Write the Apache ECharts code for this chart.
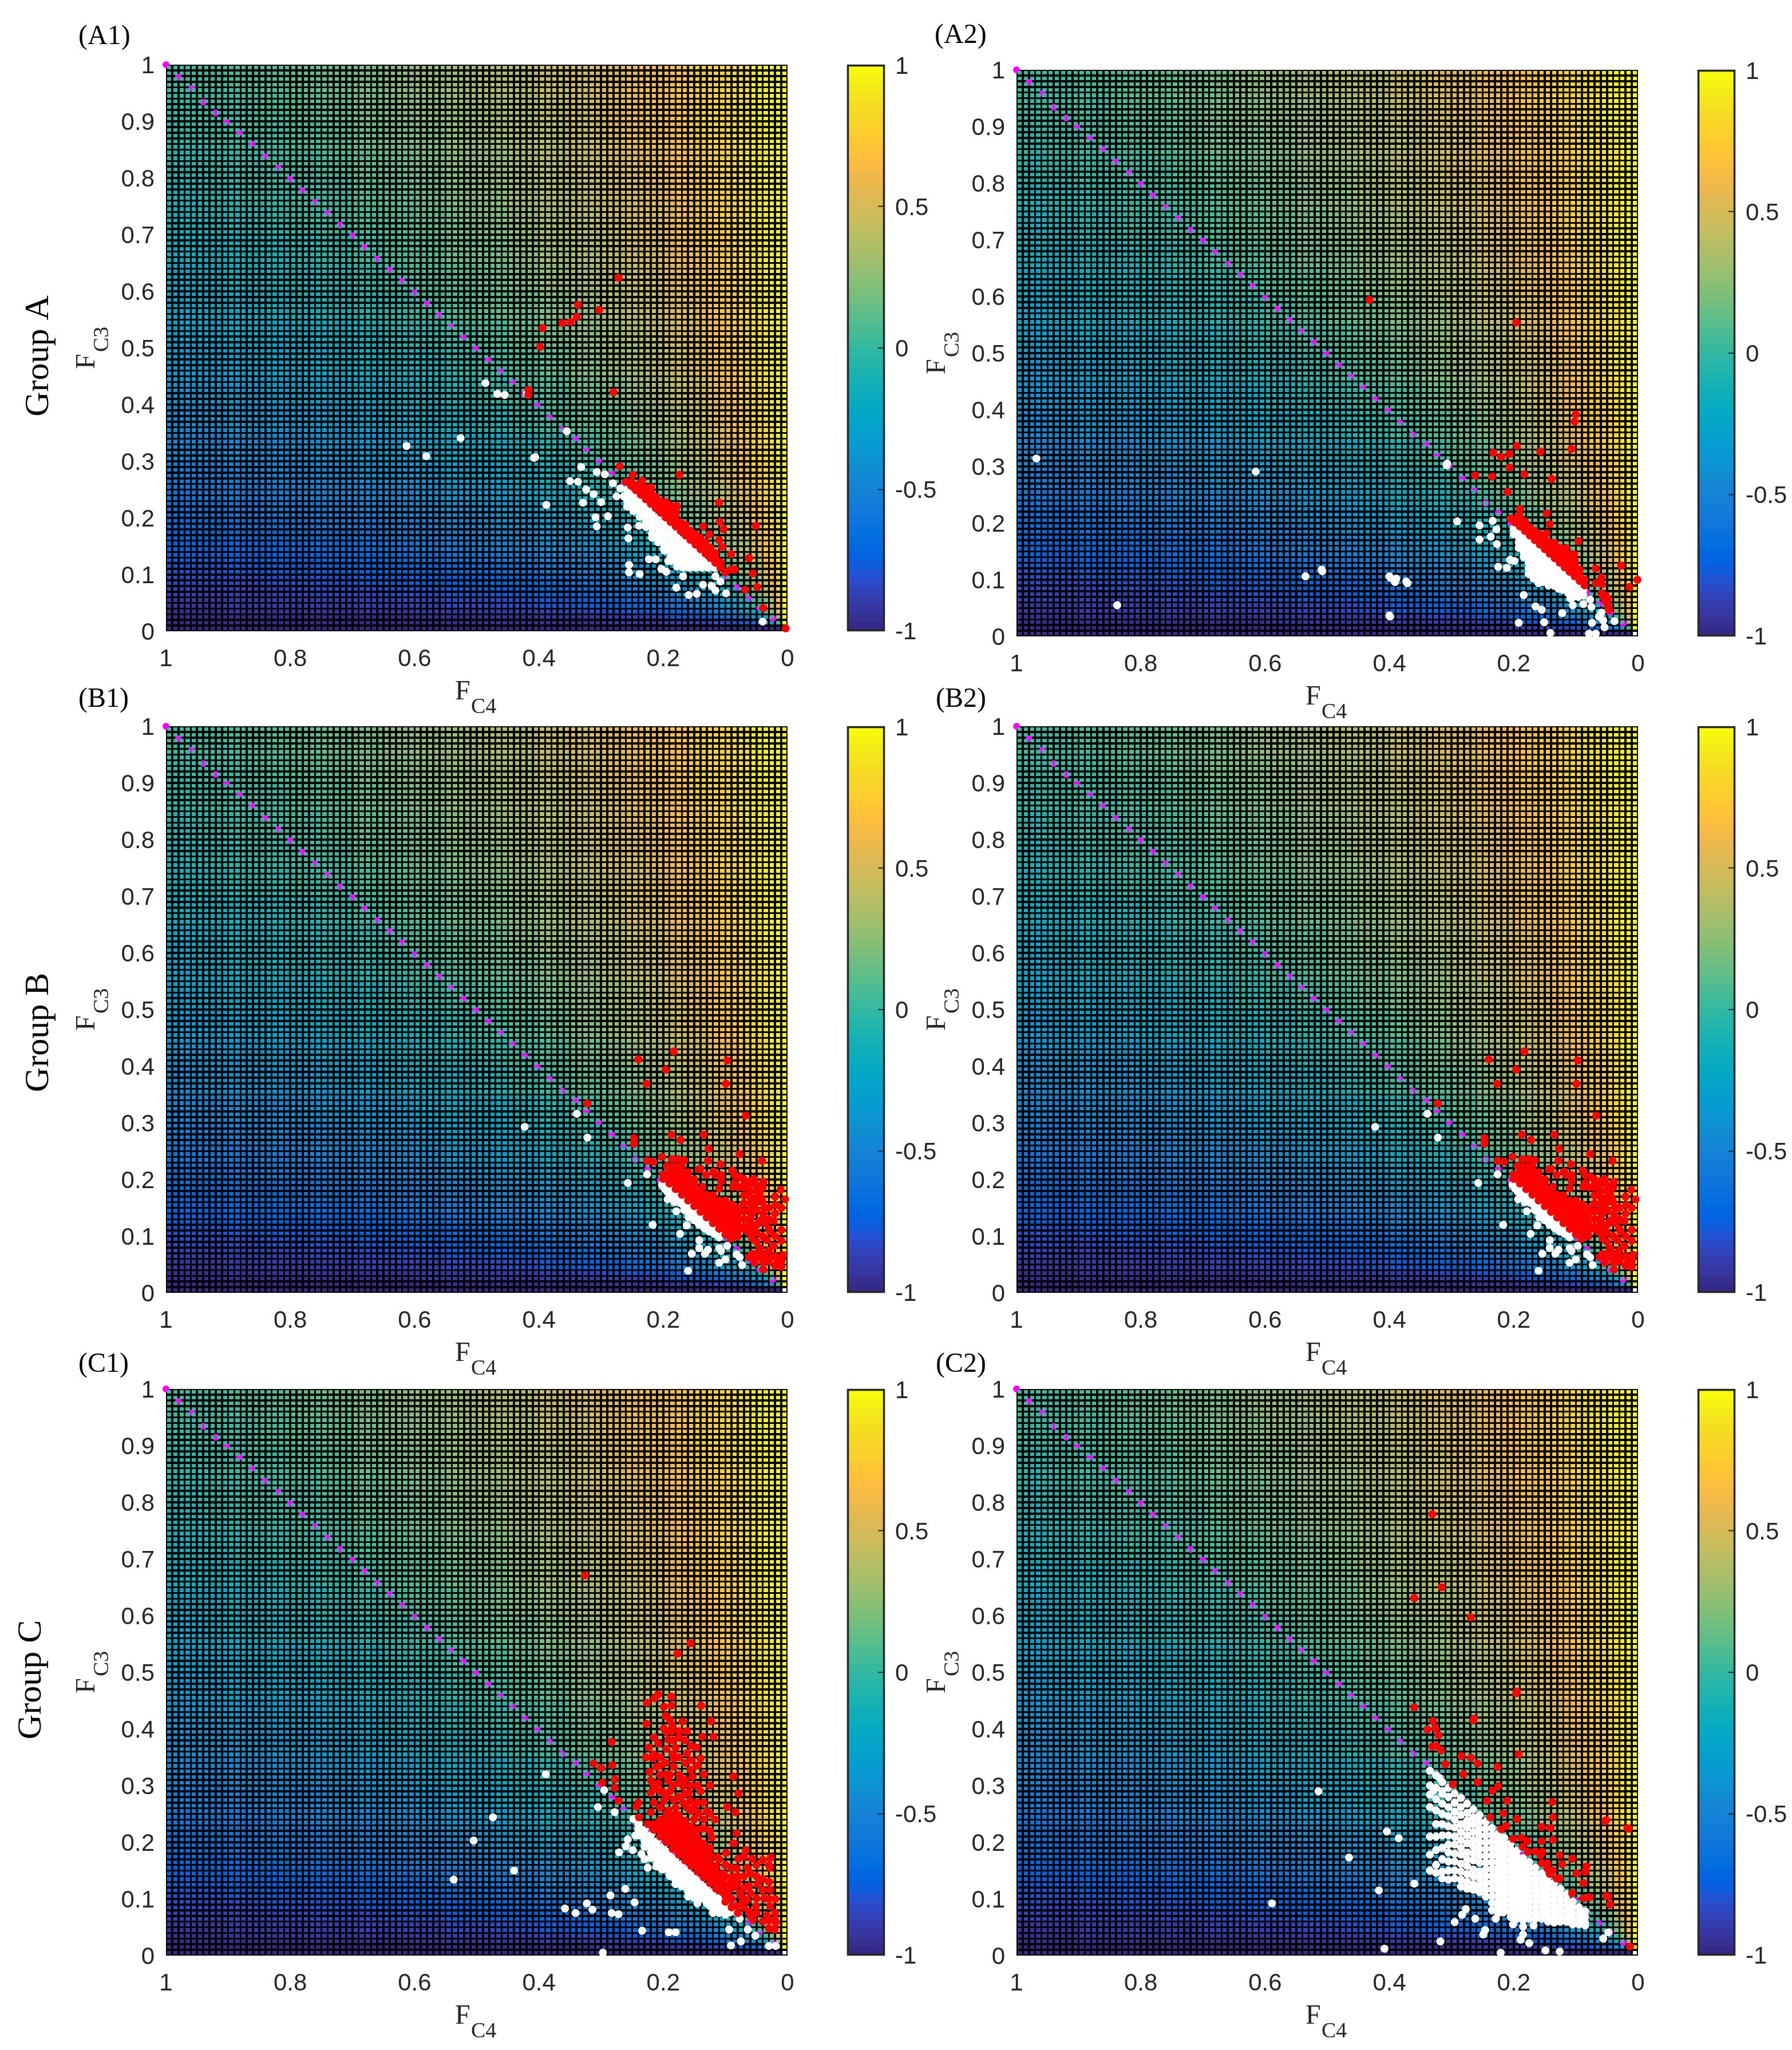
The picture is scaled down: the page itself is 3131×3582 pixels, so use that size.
<!DOCTYPE html>
<html><head><meta charset="utf-8">
<script src="https://cdn.jsdelivr.net/npm/echarts@6/dist/echarts.min.js"></script>
<style>html,body{margin:0;background:#fff}#c{width:3131px;height:3582px}</style></head>
<body><div id="c"></div>
<script>
// Background surface. Not read cell by cell: colours were sampled against the colour bar, they fit
// v = (y-x)/(y+x) closely, and this coarse table of estimates (in %) was hand-typed using that pattern.
// Each entry fills a block of cells. Band starts are in hundredths of FC4 / FC3.
const surfaceBandStarts = [0,1,2,3,4,6,8,10,12,14,16,18,20,23,26,30,35,40,45,50,55,60,65,70,75,80,85,90,95];
const surfaceRows = [
[null,-100,-100,-100,-100,-100,-100,-100,-100,-100,-100,-100,-100,-100,-100,-100,-100,-100,-100,-100,-100,-100,-100,-100,-100,-100,-100,-100,-100],
[100,0,-33,-50,-64,-73,-79,-83,-85,-87,-89,-90,-91,-92,-93,-94,-95,-95,-96,-96,-97,-97,-97,-97,-97,-98,-98,-98,-98],
[100,33,0,-20,-38,-53,-62,-68,-72,-76,-78,-80,-83,-85,-86,-88,-90,-91,-92,-93,-93,-94,-94,-95,-95,-95,-96,-96,-96],
[100,50,20,0,-20,-37,-48,-56,-61,-66,-69,-72,-75,-78,-80,-83,-85,-87,-88,-89,-90,-91,-91,-92,-92,-93,-93,-94,-94],
[100,64,38,20,0,-18,-31,-40,-47,-53,-57,-61,-65,-68,-72,-75,-78,-81,-83,-84,-85,-86,-87,-88,-89,-90,-90,-91,-91],
[100,73,53,37,18,0,-13,-24,-32,-38,-43,-48,-53,-57,-62,-66,-70,-73,-76,-78,-80,-81,-82,-83,-84,-85,-86,-87,-87],
[100,79,62,48,31,13,0,-11,-19,-26,-32,-37,-42,-48,-53,-58,-63,-66,-69,-72,-74,-76,-77,-79,-80,-81,-82,-83,-84],
[100,83,68,56,40,24,11,0,-9,-16,-22,-28,-33,-39,-45,-51,-56,-60,-63,-66,-69,-71,-73,-75,-76,-77,-78,-80,-80],
[100,85,72,61,47,32,19,9,0,-7,-14,-19,-25,-32,-38,-44,-49,-54,-58,-61,-64,-66,-69,-70,-72,-74,-75,-76,-77],
[100,87,76,66,53,38,26,16,7,0,-6,-12,-18,-25,-31,-38,-44,-49,-53,-56,-59,-62,-64,-66,-68,-70,-71,-73,-74],
[100,89,78,69,57,43,32,22,14,6,0,-6,-12,-19,-25,-32,-38,-44,-48,-52,-55,-58,-60,-63,-65,-66,-68,-70,-71],
[100,90,80,72,61,48,37,28,19,12,6,0,-6,-13,-20,-27,-33,-39,-43,-48,-51,-54,-57,-59,-61,-63,-65,-66,-68],
[100,91,83,75,65,53,42,33,25,18,12,6,0,-7,-13,-21,-28,-33,-38,-42,-46,-49,-52,-55,-57,-59,-61,-63,-64],
[100,92,85,78,68,57,48,39,32,25,19,13,7,0,-7,-14,-21,-27,-32,-37,-41,-44,-47,-50,-52,-55,-57,-59,-60],
[100,93,86,80,72,62,53,45,38,31,25,20,13,7,0,-8,-15,-21,-26,-31,-35,-39,-42,-45,-47,-50,-52,-54,-56],
[100,94,88,83,75,66,58,51,44,38,32,27,21,14,8,0,-7,-14,-19,-24,-28,-32,-35,-38,-41,-44,-46,-48,-50],
[100,95,90,85,78,70,63,56,49,44,38,33,28,21,15,7,0,-6,-12,-17,-21,-25,-29,-32,-35,-38,-40,-43,-45],
[100,95,91,87,81,73,66,60,54,49,44,39,33,27,21,14,6,0,-6,-11,-15,-19,-23,-26,-29,-32,-35,-37,-40],
[100,96,92,88,83,76,69,63,58,53,48,43,38,32,26,19,12,6,0,-5,-10,-14,-18,-21,-24,-27,-30,-32,-35],
[100,96,93,89,84,78,72,66,61,56,52,48,42,37,31,24,17,11,5,0,-5,-9,-13,-16,-19,-22,-25,-28,-30],
[100,97,93,90,85,80,74,69,64,59,55,51,46,41,35,28,21,15,10,5,0,-4,-8,-12,-15,-18,-21,-23,-26],
[100,97,94,91,86,81,76,71,66,62,58,54,49,44,39,32,25,19,14,9,4,0,-4,-7,-11,-14,-17,-19,-22],
[100,97,94,91,87,82,77,73,69,64,60,57,52,47,42,35,29,23,18,13,8,4,0,-4,-7,-10,-13,-16,-18],
[100,97,95,92,88,83,79,75,70,66,63,59,55,50,45,38,32,26,21,16,12,7,4,0,-3,-6,-9,-12,-15],
[100,97,95,92,89,84,80,76,72,68,65,61,57,52,47,41,35,29,24,19,15,11,7,3,0,-3,-6,-9,-11],
[100,98,95,93,90,85,81,77,74,70,66,63,59,55,50,44,38,32,27,22,18,14,10,6,3,0,-3,-6,-8],
[100,98,96,93,90,86,82,78,75,71,68,65,61,57,52,46,40,35,30,25,21,17,13,9,6,3,0,-3,-5],
[100,98,96,94,91,87,83,80,76,73,70,66,63,59,54,48,43,37,32,28,23,19,16,12,9,6,3,0,-3],
[100,98,96,94,91,87,84,80,77,74,71,68,64,60,56,50,45,40,35,30,26,22,18,15,11,8,5,3,0]
];
const parula = [[.2081,.1663,.5292],[.2116,.1898,.5777],[.2123,.2138,.6270],[.2081,.2386,.6771],[.1959,.2645,.7279],[.1707,.2919,.7792],[.1253,.3242,.8303],[.0591,.3598,.8683],[.0117,.3875,.8820],[.0060,.4086,.8828],[.0165,.4266,.8786],[.0329,.4430,.8720],[.0498,.4586,.8641],[.0629,.4737,.8554],[.0723,.4887,.8467],[.0779,.5040,.8384],[.0793,.5200,.8312],[.0749,.5375,.8263],[.0641,.5570,.8240],[.0488,.5772,.8228],[.0343,.5966,.8199],[.0265,.6137,.8135],[.0239,.6287,.8038],[.0231,.6418,.7913],[.0228,.6535,.7768],[.0267,.6642,.7607],[.0384,.6743,.7436],[.0590,.6838,.7254],[.0843,.6928,.7062],[.1133,.7015,.6859],[.1453,.7098,.6646],[.1801,.7177,.6424],[.2178,.7250,.6193],[.2586,.7317,.5954],[.3022,.7376,.5712],[.3482,.7424,.5473],[.3953,.7459,.5244],[.4420,.7481,.5033],[.4871,.7491,.4840],[.5300,.7491,.4661],[.5709,.7485,.4494],[.6099,.7473,.4337],[.6473,.7456,.4188],[.6834,.7435,.4044],[.7184,.7411,.3905],[.7525,.7384,.3768],[.7858,.7356,.3633],[.8185,.7327,.3498],[.8507,.7299,.3360],[.8824,.7274,.3217],[.9139,.7258,.3063],[.9450,.7261,.2886],[.9739,.7314,.2666],[.9938,.7455,.2403],[.9990,.7653,.2164],[.9955,.7861,.1967],[.9880,.8066,.1794],[.9789,.8271,.1633],[.9697,.8481,.1475],[.9626,.8705,.1309],[.9589,.8949,.1132],[.9598,.9218,.0948],[.9661,.9514,.0755],[.9763,.9831,.0538]];

// Scatter points in per-mille of [FC4, FC3].
// *Pts are flat x,y pairs. *Cols are dense regions written as [x, y, y, y...].
const diagonalPts = [1000,1000,980,978,958,958,940,934,920,915,903,899,882,880,862,860,841,838,819,818,800,798,781,778,760,757,740,738,720,717,700,698,681,678,660,657,640,638,620,618,600,597,580,578,561,558,542,539,522,519,502,499,482,479,462,459,443,440,423,419,403,399,383,377,363,356,341,340,324,321,304,301,283,279,264,258,245,235,225,218,205,198,185,178,166,156,146,136,125,115,100,97,82,77,63,57,45,41,24,23];

const a1RedPts = [272,624,303,567,337,576,339,555,349,546,362,544,394,535,398,502,280,422,417,426,417,417,270,291,174,276,249,276,234,266,178,221,110,227,109,193,103,180,51,186,136,185,126,171,110,161,105,149,91,136,62,129,56,102,49,78,68,73,39,41,3,5,91,109,85,109,117,127,108,114];
const a1RedCols = [[260,264],[252,257,263],[244,249,258],[236,241,251,259],[228,233,243,253],[220,225,235,245,254],[212,217,227,237],[204,209,219,229],[196,201,211,221,228],[188,193,203,213,222],[180,185,195,205,212],[172,177,187,192],[164,169,179,188],[156,161,171,177],[148,153,163,171],[140,145,155,165],[132,137,147,157],[124,129,139,147],[116,121,131,138],[108,112,122],[100,104]];
const a1WhitePts = [406,307,332,290,307,281,294,277,350,265,337,264,281,261,269,252,324,250,312,242,275,238,263,238,300,228,329,227,388,223,309,201,289,203,307,185,257,183,239,186,256,164,218,165,199,146,223,127,212,127,192,124,255,117,255,104,238,101,203,110,195,105,168,97,179,77,136,82,122,80,116,72,159,64,146,66,99,67,116,97,108,88,40,17,355,353,526,341,613,327,581,309,486,438,467,419,455,417,408,306,419,420];
const a1WhiteCols = [[258,250,240,230,220],[248,242,232,222,212],[238,232,222,212,202],[228,222,212,202,192,184],[218,212,202,192,182,172],[208,202,192,182,172,162,157],[198,192,182,172,162,152,142],[188,182,172,162,152,142,132,124],[178,172,162,152,142,132,122,114],[168,162,152,142,132,122,112],[158,152,142,132,122,112],[148,142,132,122,112],[138,132,122,112],[128,122,112],[118,112]];

const a2RedPts = [100,392,102,379,195,336,157,326,107,331,233,324,220,317,207,322,207,298,183,286,139,278,262,284,235,282,210,255,190,225,191,214,147,217,142,198,147,182,96,168,68,120,27,125,1,100,14,87,59,104,68,94,58,92,103,145,116,156,126,156,432,594,196,554,59,76,56,70,53,64,50,58,48,52,47,47,52,72,49,66];
const a2RedCols = [[205,208],[198,201,208],[190,194,203],[182,186,196,203],[174,178,188,193],[166,170,180,186],[158,162,172,180],[150,154,164,172],[142,146,156,166],[134,138,148,158,165],[126,130,140,150],[118,122,132,142,150],[110,114,124,134,144],[102,106,116,126,134],[94,98,108,118],[86,90,100]];
const a2WhitePts = [308,302,291,203,255,196,234,204,228,189,237,176,255,171,227,163,192,156,206,135,199,133,225,123,211,121,508,115,398,103,391,96,371,94,184,73,165,53,155,47,122,41,399,35,192,24,151,25,105,55,109,67,121,82,88,57,75,52,77,65,63,35,56,28,74,24,38,27,54,16,141,6,79,5,68,5,59,42,968,314,838,55,615,291,535,106,509,118,400,106,389,102,373,97,400,37,307,305];
const a2WhiteCols = [[200,190,180],[192,186,176,166],[184,178,168,158,148,140],[176,170,160,150,140,130,120,110],[168,162,152,142,132,122,112,102],[160,154,144,134,124,114,104,94],[152,146,136,126,116,106,96],[144,138,128,118,108,98,90],[136,130,120,110,100,90],[128,122,112,102,92,84],[120,114,104,94,84],[112,106,96,86,76],[104,98,88,78,70],[96,90,80,70],[88,82,72]];

const bRedPts = [247,273,247,263,187,279,172,270,135,279,127,254,77,245,41,233,226,233,216,231,202,240,186,236,176,236,166,234,128,233,108,227,89,216,194,224,11,182,4,165,19,155,22,127,10,111,28,108,7,67,16,58,39,41,22,83,36,96,140,219,119,214,240,412,183,426,196,394,227,369,97,410,99,369,322,334,67,313,85,208,76,204,88,187,79,186,60,197,64,187,51,191,39,196,45,177,60,169,51,167,42,167,110,184,137,187,60,157,54,154,37,150,57,140,39,140,60,125,45,127,36,123,54,113,57,96,50,106,79,113,91,96,33,93,45,79,57,69,62,63,53,53,39,53,30,61,48,69,36,69,67,110,85,113,131,208,143,218,116,208,107,208,107,197,85,194,70,191,54,201];
const bRedCols = [[200,201,209],[190,193,203,213,222],[180,183,193,203,213,223],[170,173,183,193,203,213,223],[160,163,173,183,193,203,213],[150,153,163,173,183,193,200],[140,143,153,163,173,181],[130,133,143,153,163,173],[120,123,133,143,153,163,172],[110,113,123,133,143,153,163],[100,103,113,123,133,143,153,163],[90,96,106,116,126,136,146,156],[80,100,110,120,130,140,150],[70,200,186,172,158,144,130,116],[60,180,146,132,118,104],[50,180,160,146,120,90,62],[40,186,160,130,100,60],[30,150,130,113,75,56],[20,170,140,100,65,48],[10,150,92,56,46]];
const bWhitePts = [202,191,194,179,193,165,180,170,170,157,179,144,162,144,159,133,150,130,162,119,143,122,131,113,123,110,113,106,217,120,173,104,142,93,142,79,154,69,133,69,128,76,110,79,107,74,97,83,110,53,100,59,160,39,82,68,77,63,73,49,226,209,257,194,168,162,165,154,156,140,153,137,140,123,134,120,146,127,119,110,423,293,339,316,322,274];
const bWhiteCols = [[198,192,184],[190,184,176],[182,176,168,160],[174,168,160],[166,160,152,146],[158,152,144,136],[150,144,136,128],[142,136,128,120],[134,128,120,114],[126,120,112,108],[118,112,104],[110,104,98]];

const c1RedPts = [156,551,177,533,208,461,214,454,187,457,226,446,199,439,187,441,139,441,227,409,123,414,196,423,169,413,119,386,137,386,283,377,312,339,300,331,282,336,278,311,298,305,278,296,272,273,240,270,243,263,239,244,87,316,79,286,97,262,84,253,130,255,117,240,82,216,87,198,99,181,67,186,79,171,57,171,40,169,27,173,28,155,65,155,48,126,62,123,28,116,37,101,50,101,65,98,76,111,82,88,28,87,56,63,33,71,19,58,30,48,21,46,62,77,51,87,73,92,88,140,103,145,82,154,113,174,122,208,146,222,137,224,150,241,143,251,162,261,150,261,189,415,199,401,186,396,174,396,162,396,208,374,192,381,180,367,223,367,228,350,217,348,162,357,146,367,140,348,196,340,211,333,183,348,183,333,156,328,222,324,205,319,189,319,174,319,220,309,192,309,208,304,168,299,153,316,220,287,202,290,214,295,189,290,159,287,140,290,199,273,183,275,168,270,156,273,205,261,220,253,192,256,180,261,326,671,100,140,91,130,110,140,82,126,76,106,85,121];
const c1RedCols = [[225,232],[215,222,232,385,355,300,270],[205,210,220,230,240,350,335,290],[195,200,210,220,230,240,250,395,365,320,280],[185,188,198,208,218,228,238,248,405,380,355,300],[175,178,188,198,208,218,228,238,248,385,350,305,280],[165,168,178,188,198,208,218,228,238,380,340,310,285],[155,158,168,178,188,198,208,218,228,370,345,300,255],[145,148,158,168,178,188,198,208,335,300,270],[135,138,148,158,168,178,188,198,320,270,240,225],[125,128,138,148,158,168,178,300,250,220,190],[115,118,128,138,148,158],[105,112,122,132,142],[95,105,115,125],[110,170,125,115],[100,160,125,105,95],[90,155,120,100,85],[80,140,130,75],[70,175,140,120,100,85],[60,145,110,70],[50,160,140,75],[40,135,115,60],[30,160,130,100,62],[20,100,75,62]];
const c1WhitePts = [248,241,239,227,245,212,257,205,260,193,271,182,249,186,232,210,235,179,226,198,217,179,225,155,211,157,202,152,208,188,192,183,186,169,189,140,177,155,180,126,171,140,162,121,149,130,160,104,143,111,145,92,131,106,125,87,113,97,120,75,110,75,93,76,82,75,77,65,261,118,285,106,246,94,323,92,341,75,283,75,272,73,234,44,191,41,180,41,94,46,64,46,52,35,75,25,91,18,30,17,19,17,297,5,295,292,305,262,278,253,217,198,199,167,174,130,156,111,137,101,119,87,389,320,474,244,505,203,440,150,537,134,358,83,314,81];
const c1WhiteCols = [[240,232,222,212],[230,222,212,202,192,170],[220,212,202,192,182,172],[210,202,192,182,172,162],[200,192,182,172,162,152],[190,182,172,162,152,142],[180,172,162,152,142,132],[170,162,152,142,132,122],[160,152,142,132,122,112],[150,142,132,122,112,102],[140,132,122,112,102],[130,122,112,102,92],[120,112,102,92,82],[110,102,92,82],[100,92,82,72]];

const c2RedPts = [195,466,264,418,330,414,326,401,321,389,324,370,317,362,192,355,284,352,269,349,258,339,226,333,310,338,281,320,298,302,258,306,225,299,234,291,243,273,211,273,138,271,217,251,137,244,238,244,195,241,51,239,17,225,220,223,212,229,155,227,141,225,155,202,137,204,201,206,188,208,178,202,186,192,177,183,165,184,154,183,157,177,126,177,106,171,155,163,146,163,122,161,83,157,146,154,137,150,85,148,99,145,126,136,131,136,88,128,106,110,88,101,78,103,51,105,45,90,13,16,142,144,331,779,316,650,360,631,269,597,360,438,196,463,265,415,53,237,15,224,48,104,331,369,339,399];
const c2WhitePts = [514,290,589,92,465,173,404,219,385,207,417,115,408,12,360,127,318,25,295,59,283,72,277,82,262,65,246,45,249,37,229,65,217,76,201,55,185,51,168,53,185,37,189,28,175,22,221,5,149,9,126,7,129,61,106,57,85,53,56,30,48,41,329,291,320,314,315,285,205,68,195,75,195,65,185,72,185,62,175,65,165,65,155,65,145,60,135,58];
const c2WhiteCols = [[225,215,205,195,185,175,165,155,145,135,125,115,105,95,85,75],[215,208,198,188,178,168,158,148,138,128,118,108,98,88,78],[205,198,188,178,168,158,148,138,128,118,108,98,88,78],[195,185,175,165,155,145,135,125,115,105,95,85],[185,172,162,152,142,132,122,112,102,92,82],[175,165,155,145,135,125,115,105,95,85,75],[165,155,145,135,125,115,105,95,85,75],[155,145,135,125,115,105,95,85,75],[145,138,128,118,108,98,88,78,68],[135,128,118,108,98,88,78,68],[125,118,108,98,88,78,68,60],[115,108,98,88,78,68,60],[105,95,85,75,65,55],[95,85,75,65,55],[85,78,68,58],[235,225,213,201,189,177,165,153,141,129,117,105,93,80],[245,236,224,212,200,188,176,164,152,140,128,116,104],[255,248,236,224,212,200,188,176,164,148,136,124,112],[265,258,244,232,218,204,192,180,168,152,140,126,116],[275,268,252,238,226,212,198,182,170,158,144,130,118],[285,278,262,248,232,218,204,190,178,162,148,134,122],[295,286,270,254,240,226,210,196,180,166,150,136],[305,296,280,262,246,228,212,196,182,166,150,134],[315,306,290,268,250,232,212,190,170,148,136],[325,318,296,276,256,232,210,186,160,146],[335,326,300,284,262,210,178,150]];

const pairs = (flat, cols) => {
  const out = [];
  for (let i = 0; i < flat.length; i += 2) out.push([flat[i] / 1000, flat[i + 1] / 1000]);
  (cols || []).forEach(c => c.slice(1).forEach(y => out.push([c[0] / 1000, y / 1000])));
  return out;
};
const panels = [
  {name:'(A1)', lx:137, ly:64,   left:290,  top:113,  cb:1480, red:pairs(a1RedPts,a1RedCols), white:pairs(a1WhitePts,a1WhiteCols)},
  {name:'(A2)', lx:1633,ly:62,   left:1776, top:122,  cb:2966, red:pairs(a2RedPts,a2RedCols), white:pairs(a2WhitePts,a2WhiteCols)},
  {name:'(B1)', lx:137, ly:1222, left:290,  top:1269, cb:1480, red:pairs(bRedPts,bRedCols),   white:pairs(bWhitePts,bWhiteCols)},
  {name:'(B2)', lx:1635,ly:1222, left:1776, top:1269, cb:2966, red:pairs(bRedPts,bRedCols),   white:pairs(bWhitePts,bWhiteCols)},
  {name:'(C1)', lx:137, ly:2384, left:290,  top:2427, cb:1480, red:pairs(c1RedPts,c1RedCols), white:pairs(c1WhitePts,c1WhiteCols)},
  {name:'(C2)', lx:1635,ly:2384, left:1776, top:2427, cb:2966, red:pairs(c2RedPts),           white:pairs(c2WhitePts,c2WhiteCols)}
];
const groups = [['Group A',68,622],['Group B',68,1804],['Group C',55,2935]];

const band = i => { let k = 0; while (k + 1 < surfaceBandStarts.length && surfaceBandStarts[k + 1] <= i) k++; return k; };
const cells = [];
for (let j = 0; j < 100; j++) for (let i = 0; i < 100; i++) {
  const v = surfaceRows[band(j)][band(i)];
  cells.push([i / 100, j / 100, v === null ? 900 : v / 100]);
}
const rgb = c => 'rgb(' + c.map(n => Math.round(n * 255)).join(',') + ')';
const colour = v => v > 1.5 ? '#fff' : rgb(parula[Math.max(0, Math.min(63, Math.floor((v + 1) / 2 * 64)))]);
const renderCell = (p, api) => {
  const x = api.value(0), y = api.value(1), v = api.value(2);
  const a = api.coord([x + .01, y + .01]), b = api.coord([x, y]);
  const x0 = Math.round(a[0] + 1.8), y0 = Math.round(a[1] + 1.8);
  return {type:'rect', shape:{x:x0, y:y0, width:Math.round(b[0] - 1.8) - x0, height:Math.round(b[1] - 1.8) - y0}, style:{fill:colour(v)}};
};
const barLevels = parula.map((c, i) => [i / 32 - 1]);
const renderBar = (p, api) => {
  const v = api.value(0);
  const a = api.coord([0, v + 1 / 32]), b = api.coord([1, v]);
  return {type:'rect', shape:{x:a[0] + 1, y:a[1] - .5, width:b[0] - a[0] - 2, height:b[1] - a[1] + 1}, style:{fill:colour(v + 1 / 64)}};
};

const SANS = '"Liberation Sans", Arial, sans-serif', SERIF = '"Liberation Serif", "Times New Roman", serif', INK = '#262626';
const W = 1086, H = 990;
const grid = [], xAxis = [], yAxis = [], series = [], graphic = [];
const label = {fontFamily:SANS, fontSize:42, color:INK};
const txt = (text, x, y, size, extra) => graphic.push(Object.assign({type:'text', x, y, silent:true,
  style:{text, fontFamily:SERIF, fontSize:size, fill:(extra && extra.fill) || INK, align:(extra && extra.align) || 'left', verticalAlign:'middle'}},
  extra && extra.rotation ? {rotation:extra.rotation} : {}));

panels.forEach((p, n) => {
  const g = n * 2, g2 = g + 1;
  grid.push({left:p.left, top:p.top, width:W, height:H, show:true, backgroundColor:'#000', borderWidth:0, containLabel:false});
  xAxis.push({gridIndex:g, type:'value', min:0, max:1, interval:.2, inverse:true, splitLine:{show:false}, axisLine:{show:false}, axisTick:{show:false}, axisLabel:Object.assign({margin:28, showMinLabel:true, showMaxLabel:true, hideOverlap:false}, label)});
  yAxis.push({gridIndex:g, type:'value', min:0, max:1, interval:.1, splitLine:{show:false}, axisLine:{show:false}, axisTick:{show:false}, axisLabel:Object.assign({margin:20, verticalAlign:'top', lineHeight:6, showMinLabel:true, showMaxLabel:true, hideOverlap:false}, label)});
  grid.push({left:p.cb + 2, top:p.top + 1, width:63, height:H - 2, show:false});
  xAxis.push({gridIndex:g2, type:'value', min:0, max:1, show:false});
  yAxis.push({gridIndex:g2, type:'value', position:'right', min:-1, max:1, interval:.5, splitLine:{show:false},
    axisLine:{show:false}, axisTick:{show:false}, axisLabel:Object.assign({margin:19, verticalAlign:'top', lineHeight:6, showMinLabel:true, showMaxLabel:true, hideOverlap:false}, label)});

  const base = {xAxisIndex:g, yAxisIndex:g, silent:true, animation:false, progressive:0};
  series.push(Object.assign({type:'scatter', z:1, symbolSize:12, clip:false, itemStyle:{color:'#ff00ff', opacity:1}, data:pairs(diagonalPts)}, base));
  series.push(Object.assign({type:'custom', z:2, clip:false, renderItem:renderCell, encode:{x:0, y:1}, data:cells}, base));
  series.push(Object.assign({type:'scatter', z:3, symbolSize:14, clip:false, itemStyle:{color:'#ffffff', opacity:1}, data:p.white}, base));
  series.push(Object.assign({type:'scatter', z:4, symbolSize:14, clip:false, itemStyle:{color:'#ff0000', opacity:1}, data:p.red}, base));
  series.push({type:'custom', xAxisIndex:g2, yAxisIndex:g2, z:2, silent:true, animation:false, progressive:0, renderItem:renderBar, encode:{y:0}, data:barLevels});

  const fr = {stroke:INK, lineWidth:3.5, fill:null};
  graphic.push({type:'rect', z:20, silent:true, shape:{x:p.cb + 1.5, y:p.top + 1.5, width:63, height:H - 3}, style:fr});
  [.25,.5,.75].forEach(f => graphic.push({type:'line', z:20, silent:true, shape:{x1:p.cb + 54, x2:p.cb + 65, y1:p.top + H * f, y2:p.top + H * f}, style:{stroke:INK, lineWidth:2}}));

  txt(p.name, p.lx, p.ly, 48, {fill:'#000'});
  txt('F', p.left + 505, p.top + H + 106, 48);
  txt('C4', p.left + 533, p.top + H + 133, 38);
  txt('F', p.left - 138, p.top + 532, 48, {rotation:Math.PI / 2});
  txt('C3', p.left - 111, p.top + 502, 38, {rotation:Math.PI / 2});
});
groups.forEach(g => txt(g[0], g[1], g[2], 60, {align:'center', rotation:Math.PI / 2, fill:'#000'}));

const chart = echarts.init(document.getElementById('c'), null, {renderer:'canvas'});
chart.setOption({animation:false, backgroundColor:'#fff', tooltip:{show:false}, grid, xAxis, yAxis, series, graphic});
</script></body></html>
